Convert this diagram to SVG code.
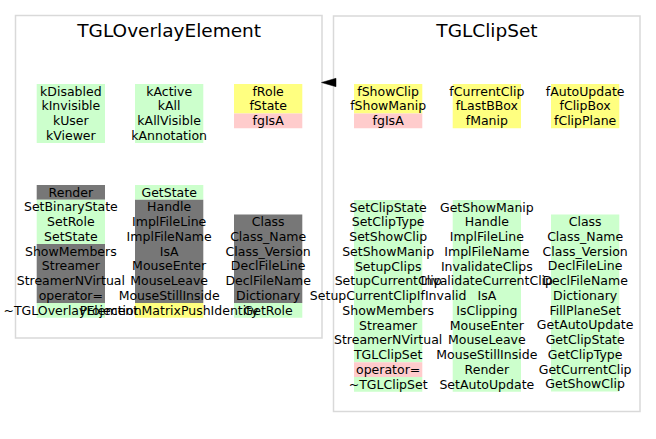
<svg xmlns="http://www.w3.org/2000/svg" width="656" height="439" viewBox="0 0 656 439">
<style>
.frame{fill:#ffffff;stroke:#d9d9d9;stroke-width:1.5}
.g{fill:#ccffcc}.y{fill:#ffff80}.p{fill:#ffcccc}.k{fill:#777777}
text{font-family:"DejaVu Sans",sans-serif;fill:#000000;text-anchor:middle}
.t{font-size:18.5px}
.m{font-size:12.5px}
</style>
<rect width="656" height="439" fill="#ffffff"/>
<g id="TGLOverlayElement">
<rect class="frame" x="15.5" y="15.5" width="306.5" height="322.5"/>
<text class="t" x="169.2" y="36.7">TGLOverlayElement</text>
<g class="bg">
<rect class="g" x="36.7" y="84" width="68.3" height="59"/>
<rect class="g" x="135" y="84" width="68.3" height="59"/>
<rect class="y" x="234" y="84" width="68.3" height="29.5"/>
<rect class="p" x="234" y="113.5" width="68.3" height="14.75"/>
<rect class="k" x="36.7" y="185" width="68.3" height="14.75"/>
<rect class="g" x="36.7" y="199.75" width="68.3" height="44.25"/>
<rect class="k" x="36.7" y="244" width="68.3" height="59"/>
<rect class="g" x="36.7" y="303" width="68.3" height="14.75"/>
<rect class="g" x="135" y="185" width="68.3" height="14.75"/>
<rect class="k" x="135" y="199.75" width="68.3" height="103.25"/>
<rect class="y" x="135" y="303" width="68.3" height="14.75"/>
<rect class="k" x="234" y="214.5" width="68.3" height="88.5"/>
<rect class="g" x="234" y="303" width="68.3" height="14.75"/>
</g>
<g class="labels">
<text class="m" y="95.5"><tspan x="70.85">kDisabled</tspan><tspan x="70.85" dy="14.75">kInvisible</tspan><tspan x="70.85" dy="14.75">kUser</tspan><tspan x="70.85" dy="14.75">kViewer</tspan></text>
<text class="m" y="95.5"><tspan x="169.15">kActive</tspan><tspan x="169.15" dy="14.75">kAll</tspan><tspan x="169.15" dy="14.75">kAllVisible</tspan><tspan x="169.15" dy="14.75">kAnnotation</tspan></text>
<text class="m" y="95.5"><tspan x="268.15">fRole</tspan><tspan x="268.15" dy="14.75">fState</tspan><tspan x="268.15" dy="14.75">fgIsA</tspan></text>
<text class="m" y="196.5"><tspan x="70.85">Render</tspan><tspan x="70.85" dy="14.75">SetBinaryState</tspan><tspan x="70.85" dy="14.75">SetRole</tspan><tspan x="70.85" dy="14.75">SetState</tspan><tspan x="70.85" dy="14.75">ShowMembers</tspan><tspan x="70.85" dy="14.75">Streamer</tspan><tspan x="70.85" dy="14.75">StreamerNVirtual</tspan><tspan x="70.85" dy="14.75">operator=</tspan><tspan x="70.85" dy="14.75">~TGLOverlayElement</tspan></text>
<text class="m" y="196.5"><tspan x="169.15">GetState</tspan><tspan x="169.15" dy="14.75">Handle</tspan><tspan x="169.15" dy="14.75">ImplFileLine</tspan><tspan x="169.15" dy="14.75">ImplFileName</tspan><tspan x="169.15" dy="14.75">IsA</tspan><tspan x="169.15" dy="14.75">MouseEnter</tspan><tspan x="169.15" dy="14.75">MouseLeave</tspan><tspan x="169.15" dy="14.75">MouseStillInside</tspan><tspan x="169.15" dy="14.75">ProjectionMatrixPushIdentity</tspan></text>
<text class="m" y="226"><tspan x="268.15">Class</tspan><tspan x="268.15" dy="14.75">Class_Name</tspan><tspan x="268.15" dy="14.75">Class_Version</tspan><tspan x="268.15" dy="14.75">DeclFileLine</tspan><tspan x="268.15" dy="14.75">DeclFileName</tspan><tspan x="268.15" dy="14.75">Dictionary</tspan><tspan x="268.15" dy="14.75">GetRole</tspan></text>
</g>
</g>
<g id="TGLClipSet">
<rect class="frame" x="333.5" y="16" width="306.5" height="395.5"/>
<text class="t" x="487" y="36.7">TGLClipSet</text>
<g class="bg">
<rect class="y" x="354" y="84" width="68.3" height="29.5"/>
<rect class="p" x="354" y="113.5" width="68.3" height="14.75"/>
<rect class="y" x="452.7" y="84" width="68.3" height="44.25"/>
<rect class="y" x="551" y="84" width="68.3" height="44.25"/>
<rect class="g" x="354" y="200" width="68.3" height="162.25"/>
<rect class="p" x="354" y="362.25" width="68.3" height="14.75"/>
<rect class="g" x="354" y="377" width="68.3" height="14.75"/>
<rect class="g" x="452.7" y="200" width="68.3" height="191.75"/>
<rect class="g" x="551" y="214.5" width="68.3" height="177"/>
</g>
<g class="labels">
<text class="m" y="95.5"><tspan x="388.15">fShowClip</tspan><tspan x="388.15" dy="14.75">fShowManip</tspan><tspan x="388.15" dy="14.75">fgIsA</tspan></text>
<text class="m" y="95.5"><tspan x="486.85">fCurrentClip</tspan><tspan x="486.85" dy="14.75">fLastBBox</tspan><tspan x="486.85" dy="14.75">fManip</tspan></text>
<text class="m" y="95.5"><tspan x="585.15">fAutoUpdate</tspan><tspan x="585.15" dy="14.75">fClipBox</tspan><tspan x="585.15" dy="14.75">fClipPlane</tspan></text>
<text class="m" y="211.5"><tspan x="388.15">SetClipState</tspan><tspan x="388.15" dy="14.75">SetClipType</tspan><tspan x="388.15" dy="14.75">SetShowClip</tspan><tspan x="388.15" dy="14.75">SetShowManip</tspan><tspan x="388.15" dy="14.75">SetupClips</tspan><tspan x="388.15" dy="14.75">SetupCurrentClip</tspan><tspan x="388.15" dy="14.75">SetupCurrentClipIfInvalid</tspan><tspan x="388.15" dy="14.75">ShowMembers</tspan><tspan x="388.15" dy="14.75">Streamer</tspan><tspan x="388.15" dy="14.75">StreamerNVirtual</tspan><tspan x="388.15" dy="14.75">TGLClipSet</tspan><tspan x="388.15" dy="14.75">operator=</tspan><tspan x="388.15" dy="14.75">~TGLClipSet</tspan></text>
<text class="m" y="211.5"><tspan x="486.85">GetShowManip</tspan><tspan x="486.85" dy="14.75">Handle</tspan><tspan x="486.85" dy="14.75">ImplFileLine</tspan><tspan x="486.85" dy="14.75">ImplFileName</tspan><tspan x="486.85" dy="14.75">InvalidateClips</tspan><tspan x="486.85" dy="14.75">InvalidateCurrentClip</tspan><tspan x="486.85" dy="14.75">IsA</tspan><tspan x="486.85" dy="14.75">IsClipping</tspan><tspan x="486.85" dy="14.75">MouseEnter</tspan><tspan x="486.85" dy="14.75">MouseLeave</tspan><tspan x="486.85" dy="14.75">MouseStillInside</tspan><tspan x="486.85" dy="14.75">Render</tspan><tspan x="486.85" dy="14.75">SetAutoUpdate</tspan></text>
<text class="m" y="226"><tspan x="585.15">Class</tspan><tspan x="585.15" dy="14.75">Class_Name</tspan><tspan x="585.15" dy="14.75">Class_Version</tspan><tspan x="585.15" dy="14.75">DeclFileLine</tspan><tspan x="585.15" dy="14.75">DeclFileName</tspan><tspan x="585.15" dy="14.75">Dictionary</tspan><tspan x="585.15" dy="14.75">FillPlaneSet</tspan><tspan x="585.15" dy="14.75">GetAutoUpdate</tspan><tspan x="585.15" dy="14.75">GetClipState</tspan><tspan x="585.15" dy="14.75">GetClipType</tspan><tspan x="585.15" dy="14.75">GetCurrentClip</tspan><tspan x="585.15" dy="14.75">GetShowClip</tspan></text>
</g>
</g>
<g id="connectors">
<polygon points="321.5,82.5 336,78.3 336,86.7" fill="#000000" stroke="#000000" stroke-width="0.5"/>
</g>
</svg>
